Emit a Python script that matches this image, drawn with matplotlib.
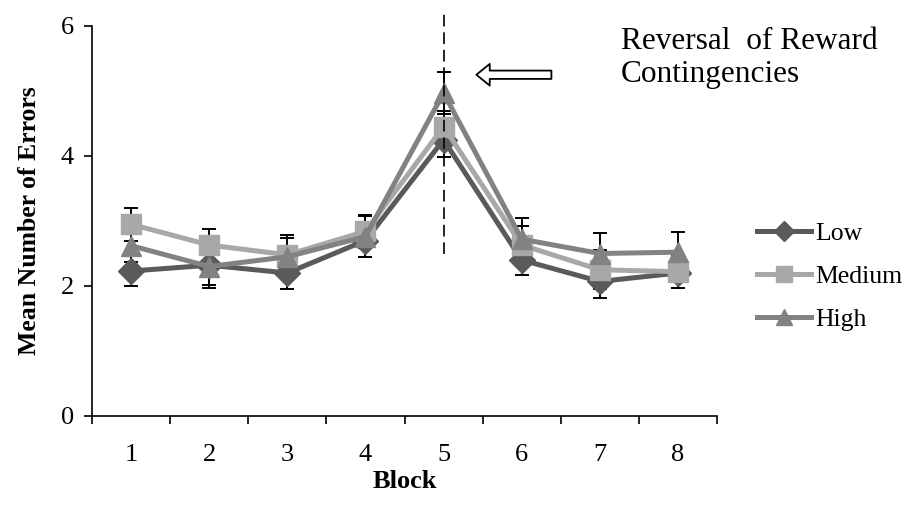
import matplotlib
matplotlib.use("Agg")
import matplotlib.pyplot as plt

# data
blocks = [1, 2, 3, 4, 5, 6, 7, 8]
low = [2.23, 2.32, 2.20, 2.70, 4.25, 2.40, 2.07, 2.20]
medium = [2.95, 2.63, 2.48, 2.84, 4.45, 2.63, 2.25, 2.22]
high = [2.62, 2.30, 2.45, 2.76, 4.97, 2.72, 2.50, 2.52]
low_err = [0.23, 0.30, 0.25, 0.25, 0.27, 0.23, 0.25, 0.23]
medium_err = [0.25, 0.25, 0.30, 0.25, 0.25, 0.30, 0.30, 0.25]
high_err = [0.25, 0.33, 0.29, 0.32, 0.33, 0.33, 0.31, 0.31]
series_names = ["Low", "Medium", "High"]
reversal_block = 5

plt.rcParams["font.family"] = ["Liberation Serif", "DejaVu Serif"]

fig = plt.figure(figsize=(9.08, 5.2), dpi=100)
ax = fig.add_axes([0.1013, 0.2, 0.6884, 0.75])

styles = [
    (low, low_err, "#5a5a5a", "D", 13),
    (medium, medium_err, "#a8a8a8", "s", 15),
    (high, high_err, "#828282", "^", 15),
]
for i, (vals, err, col, mk, ms) in enumerate(styles):
    z = 3 + i
    ax.plot(blocks, vals, color=col, lw=3.6, marker=mk, ms=ms,
            mec=col, mfc=col, label=series_names[i], zorder=z)
    # error bars sit behind the lines, only their ends show
    ax.errorbar(blocks, vals, yerr=err, fmt="none", ecolor="black",
                elinewidth=1.4, capsize=5, capthick=1.4, zorder=2)

# reversal marker
ax.plot([reversal_block, reversal_block], [2.5, 6.25], color="black", lw=1.2,
        dashes=(7, 3.5), clip_on=False, zorder=20)
ax.annotate("", xy=(5.42, 5.25), xytext=(6.38, 5.25),
            arrowprops=dict(arrowstyle="simple,head_length=0.8,head_width=1.3,tail_width=0.5",
                            fc="white", ec="black", lw=1.3, mutation_scale=12,
                            shrinkA=0, shrinkB=0))
fig.text(0.684, 0.948, "Reversal  of Reward\nContingencies", fontsize=22.5,
         va="top", ha="left", linespacing=1.2)

ax.set_xlim(0.5, 8.5)
ax.set_ylim(0, 6)
ax.set_yticks([0, 2, 4, 6])
ax.set_xticks(blocks)
ax.set_xticks([b + 0.5 for b in [0] + blocks], minor=True)
ax.tick_params(axis="x", which="major", length=0, pad=20, labelsize=19)
ax.tick_params(axis="x", which="minor", length=6, width=1.2, direction="out")
ax.tick_params(axis="y", length=6, width=1.2, direction="out", pad=7, labelsize=19)
for s in ("top", "right"):
    ax.spines[s].set_visible(False)
for s in ("left", "bottom"):
    ax.spines[s].set_linewidth(1.2)

ax.set_xlabel("Block", fontsize=19, fontweight="bold", labelpad=3)
ax.set_ylabel("Mean Number of Errors", fontsize=18.5, fontweight="bold", labelpad=14)

fig.legend(loc="center left", bbox_to_anchor=(0.82, 0.468), frameon=False,
           fontsize=18.5, handlelength=2.1, handletextpad=0.15, labelspacing=0.78,
           borderpad=0, markerscale=0.75)

fig.savefig("out.png", dpi=100)
